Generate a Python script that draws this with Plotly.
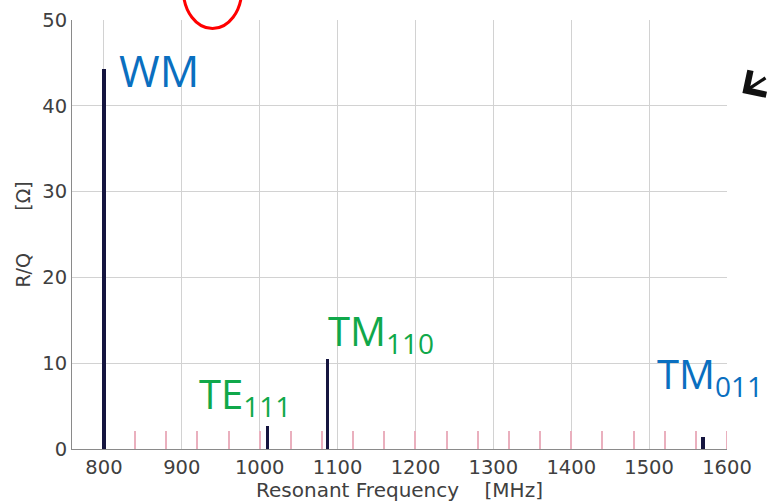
import plotly.graph_objects as go

# Resonant modes: frequency [MHz] and R/Q [Ohm]
mode_freq = [800, 1010, 1087, 1569]
mode_rq = [44.3, 2.7, 10.5, 1.4]

# Beam spectral lines every 40 MHz (marker height in Ohm)
line_freq = list(range(840, 1601, 40))
line_height = [2.1] * len(line_freq)

x_ticks = [800, 900, 1000, 1100, 1200, 1300, 1400, 1500, 1600]
y_ticks = [0, 10, 20, 30, 40, 50]

NBSP = "\u00a0"
x_title = "Resonant Frequency" + NBSP * 4 + "[MHz]"
y_title = "R/Q" + NBSP * 7 + "[Ω]"

fig = go.Figure()

fig.add_trace(go.Bar(
    x=line_freq, y=line_height, width=1.3,
    marker=dict(color="#eab0be", line=dict(width=0)),
    hoverinfo="skip", showlegend=False,
))
fig.add_trace(go.Bar(
    x=mode_freq, y=mode_rq, width=4.4,
    marker=dict(color="#15153f", line=dict(width=0)),
    showlegend=False,
))

sans = "DejaVu Sans, Liberation Sans, sans-serif"
axis_font = dict(family=sans, size=19.5, color="#404040")

fig.update_layout(
    width=767, height=502,
    margin=dict(l=72, r=40, t=20, b=53),
    paper_bgcolor="white", plot_bgcolor="white",
    barmode="overlay", bargap=0,
    xaxis=dict(
        range=[759, 1600], tickvals=x_ticks, ticks="outside", ticklen=1,
        tickcolor="white", automargin=False,
        tickfont=axis_font, showgrid=True, gridcolor="#d2d2d2", gridwidth=1,
        showline=True, linecolor="#8a8a8a", linewidth=1, zeroline=False,
        title=dict(text=x_title, standoff=6,
                   font=dict(family=sans, size=20, color="#404040")),
    ),
    yaxis=dict(
        range=[0, 50], tickvals=y_ticks, ticks="outside", ticklen=0,
        automargin=False,
        tickfont=axis_font, showgrid=True, gridcolor="#d2d2d2", gridwidth=1,
        showline=True, linecolor="#8a8a8a", linewidth=1, zeroline=False,
        title=dict(text=y_title, standoff=6,
                   font=dict(family=sans, size=19, color="#404040")),
    ),
)

label_font = "Open Sans, Lato, sans-serif"
blue = "#0a6fc0"
green = "#10a84a"

fig.add_annotation(x=817, y=44.2, xref="x", yref="y", text="WM", showarrow=False,
                   xanchor="left", yanchor="middle",
                   font=dict(family=label_font, size=44, color=blue))
fig.add_annotation(x=1085, y=13.6, xref="x", yref="y",
                   text="TM<sub>110</sub>", showarrow=False,
                   xanchor="left", yanchor="middle",
                   font=dict(family=label_font, size=40, color=green))
fig.add_annotation(x=920, y=6.2, xref="x", yref="y",
                   text="TE<sub>111</sub>", showarrow=False,
                   xanchor="left", yanchor="middle",
                   font=dict(family=label_font, size=40, color=green))
fig.add_annotation(x=1508, y=8.6, xref="x", yref="y",
                   text="TM<sub>011</sub>", showarrow=False,
                   xanchor="left", yanchor="middle",
                   font=dict(family=label_font, size=40, color=blue))

# Red highlight ellipse above the plot
fig.add_shape(type="circle", xref="paper", yref="paper",
              x0=0.170, x1=0.259, y0=0.980, y1=1.16,
              line=dict(color="#ff0000", width=3))

# Black pointer arrow on the right
fig.add_annotation(x=1.0235, y=0.830, xref="paper", yref="paper", text="",
                   showarrow=True, arrowhead=4, arrowsize=1.7, arrowwidth=3.3,
                   arrowcolor="#111111", ax=26, ay=-16)

fig.write_html("out.html")
